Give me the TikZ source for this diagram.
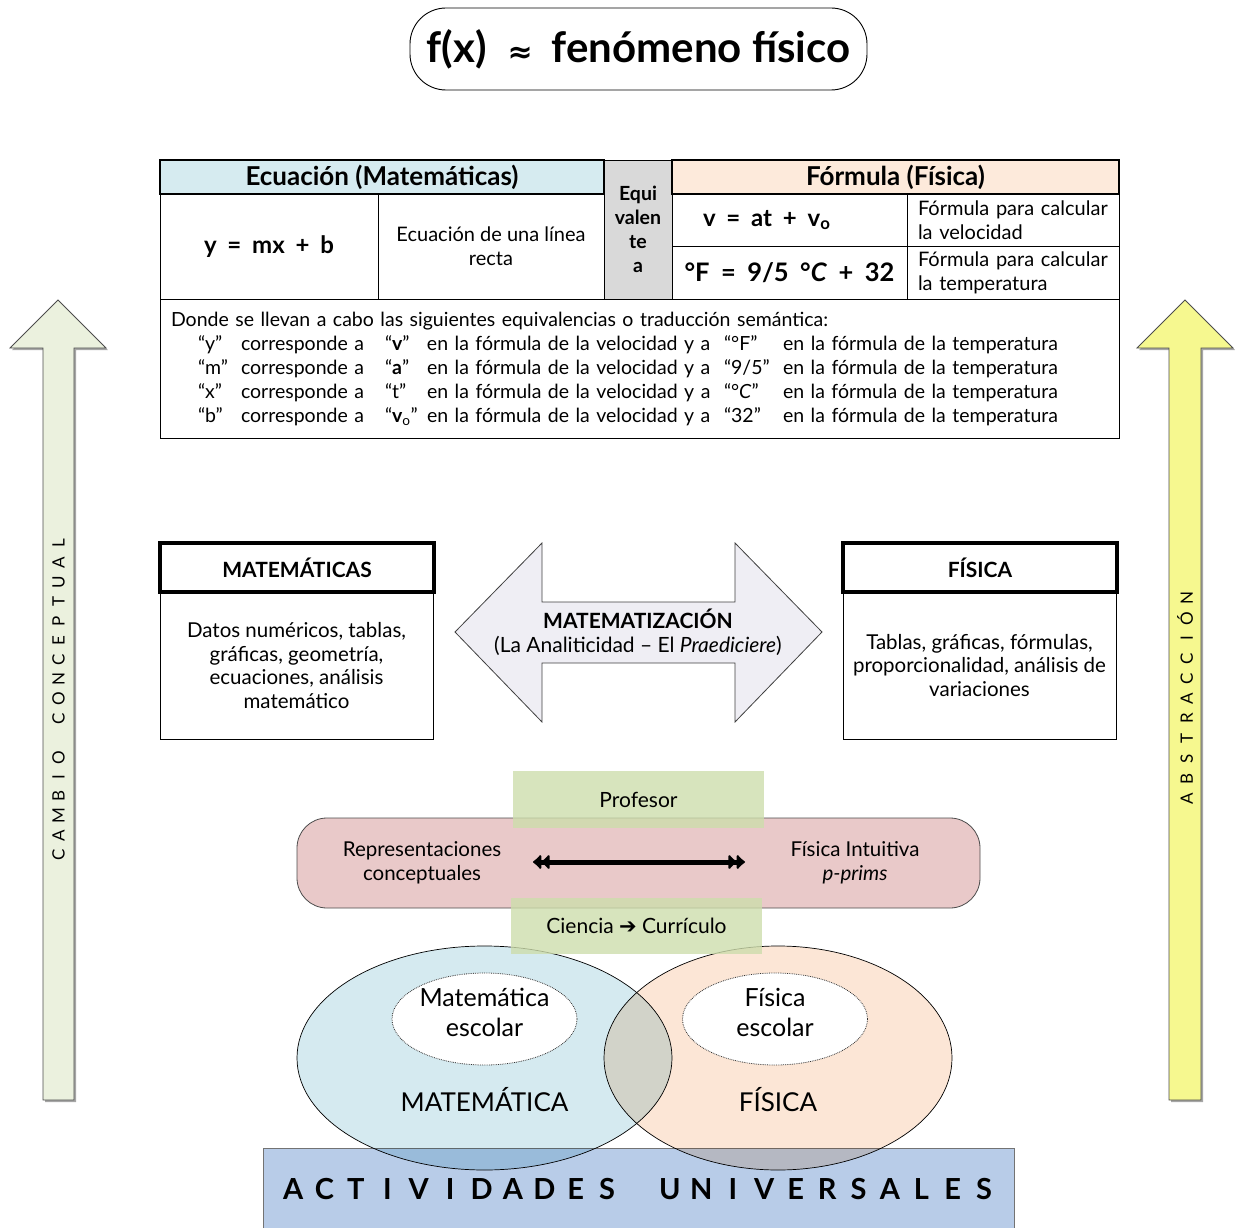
\documentclass[tikz,border=0pt]{standalone}
\usepackage{fontspec}
\setmainfont{Lato}
\newfontfamily\symfont{DejaVu Sans}
\usetikzlibrary{arrows.meta,shapes.geometric}

\definecolor{hdrblue}{RGB}{214,235,240}
\definecolor{hdrpeach}{RGB}{253,234,219}
\definecolor{equigray}{RGB}{217,217,217}
\definecolor{arrowlav}{RGB}{239,238,244}
\definecolor{bandpink}{RGB}{233,201,201}
\definecolor{boxgreen}{RGB}{205,221,172}
\definecolor{venblue}{RGB}{213,234,240}
\definecolor{venpeach}{RGB}{252,230,214}
\definecolor{univblue}{RGB}{184,204,232}
\definecolor{sidegreen}{RGB}{235,241,222}
\definecolor{sideyellow}{RGB}{246,248,143}

% letters set at a fixed pitch: \spreadletters{pitch}{LETTERS~WORD}
\makeatletter
\newcommand\spreadletters[2]{\def\sl@w{#1}\sl@loop#2\relax}
\def\sl@loop#1{\ifx\relax#1\else\makebox[\sl@w]{#1}\expandafter\sl@loop\fi}
\makeatother

% one line of the equivalence list
\newcommand\eqrow[6]{\hspace*{27pt}\makebox[43pt][l]{#1}\makebox[144pt][l]{#2}\makebox[42pt][l]{#3}\makebox[297pt][l]{#4}\makebox[59pt][l]{#5}#6}
% wide gap inside the formulas
\newcommand\fg{\hspace{0.45em}}

\begin{document}
\begin{tikzpicture}[x=1pt,y=-1pt,
  base/.style={inner sep=0pt, outer sep=0pt, align=center},
  cell/.style={base, draw, line width=0.8pt},
  hdr/.style={cell, line width=2pt, minimum height=34pt, font=\bfseries\fontsize{26}{28}\selectfont},
  txt/.style={font=\fontsize{20}{24}\selectfont},
  formula/.style={font=\bfseries\fontsize{24}{26}\selectfont},
  topbox/.style={cell, line width=3.5pt, minimum width=274pt, minimum height=49pt, font=\bfseries\fontsize{21}{24}\selectfont},
  bodybox/.style={cell, minimum width=273pt, minimum height=147pt, font=\fontsize{20.5}{23.5}\selectfont},
  greenbox/.style={base, fill=boxgreen, fill opacity=0.8, text opacity=1, minimum width=251pt, font=\fontsize{21}{24}\selectfont},
  bot/.style={base, font=\fontsize{20.5}{24}\selectfont},
  venn/.style={base, ellipse, draw, line width=0.7pt},
  inner/.style={base, ellipse, fill=white, draw=black!80, densely dotted, line width=0.8pt, minimum width=185pt, minimum height=92pt},
  innertext/.style={base, font=\fontsize{25}{30}\selectfont},
  sidearrow/.style={draw=black!70, line width=0.8pt},
  sidetext/.style={base, rotate=90, font=\fontsize{17}{18}\selectfont}]

\path[use as bounding box] (0,0) rectangle (1235,1228);

% title
\node[base, draw, line width=0.9pt, rounded corners=36pt, minimum width=457pt, minimum height=82pt,
      font=\bfseries\fontsize{42}{46}\selectfont] (title) at (638.5,49)
  {f(x)\hspace{0.5em}{\symfont\bfseries\fontsize{30}{30}\selectfont ≈}\hspace{0.45em}fenómeno físico};

% side arrows
\fill[black!35] (60,302) -- (108,350) -- (76,350) -- (76,1102) -- (45,1102) -- (45,350) -- (12,350) -- cycle;
\draw[sidearrow, fill=sidegreen] (58,300) -- (106,348) -- (74,348) -- (74,1100) -- (43,1100) -- (43,348) -- (10,348) -- cycle;
\node[sidetext] (cambio) at (58.5,699) {\spreadletters{19.5pt}{CAMBIO~CONCEPTUAL}};

\fill[black!35] (1187,302) -- (1235,350) -- (1203,350) -- (1203,1102) -- (1171,1102) -- (1171,350) -- (1139,350) -- cycle;
\draw[sidearrow, fill=sideyellow] (1185,300) -- (1233,348) -- (1201,348) -- (1201,1100) -- (1169,1100) -- (1169,348) -- (1137,348) -- cycle;
\node[sidetext] (abstr) at (1185,698.5) {\spreadletters{20pt}{ABSTRACCIÓN}};

% equation / formula table
\node[cell, fill=equigray, minimum width=68pt, minimum height=139pt, font=\bfseries\fontsize{19.5}{24}\selectfont] (equi) at (638,229.5) {Equi\\valen\\te\\a};
\node[cell, minimum width=218pt, minimum height=105pt, formula] (ymx) at (269,246.5) {y\fg=\fg mx\fg+\fg b};
\node[cell, minimum width=226pt, minimum height=105pt, txt] (eclin) at (491,246.5) {Ecuación de una línea\\recta};
\node[cell, minimum width=235pt, minimum height=52pt, inner xsep=31pt, text width=173pt, align=left, formula] (vat) at (789.5,220) {v\fg=\fg at\fg+\fg v\textsubscript{o}};
\node[cell, minimum width=235pt, minimum height=53pt, font=\bfseries\fontsize{25.5}{28}\selectfont] (fahr) at (789.5,272.5) {°F\fg=\fg9/5\fg°\textit{C}\fg+\fg32};
\node[cell, minimum width=212pt, minimum height=52pt, inner xsep=11pt, text width=190pt, align=left, txt] (dvel) at (1013,220) {Fórmula para calcular\\la velocidad};
\node[cell, minimum width=212pt, minimum height=53pt, inner xsep=11pt, text width=190pt, align=left, txt] (dtemp) at (1013,272.5) {Fórmula para calcular\\la temperatura};
\node[hdr, fill=hdrblue, minimum width=444pt] (ecuH) at (382,177) {Ecuación (Matemáticas)};
\node[hdr, fill=hdrpeach, minimum width=447pt] (forH) at (895.5,177) {Fórmula (Física)};

\node[cell, minimum width=959pt, minimum height=139pt, inner xsep=11pt, text width=937pt, align=left,
      font=\fontsize{19.5}{24}\selectfont] (equiv) at (639.5,368.5)
  {Donde se llevan a cabo las siguientes equivalencias o traducción semántica:\\
   \eqrow{“y”}{corresponde a}{“\textbf{v}”}{en la fórmula de la velocidad y a}{“°F”}{en la fórmula de la temperatura}\\
   \eqrow{“m”}{corresponde a}{“\textbf{a}”}{en la fórmula de la velocidad y a}{“9/5”}{en la fórmula de la temperatura}\\
   \eqrow{“x”}{corresponde a}{“t”}{en la fórmula de la velocidad y a}{“°\textit{C}”}{en la fórmula de la temperatura}\\
   \eqrow{“b”}{corresponde a}{“\textbf{v}\textsubscript{o}”}{en la fórmula de la velocidad y a}{“32”}{en la fórmula de la temperatura}};

% mathematics / physics boxes
\node[bodybox] (matB) at (296.5,665.5) {Datos numéricos, tablas,\\gráficas, geometría,\\ecuaciones, análisis\\matemático};
\node[topbox] (matH) at (297,567.5) {MATEMÁTICAS};
\node[bodybox] (fisB) at (979.5,665.5) {Tablas, gráficas, fórmulas,\\proporcionalidad, análisis de\\variaciones};
\node[topbox] (fisH) at (980,567.5) {FÍSICA};

% mathematisation double arrow
\draw[fill=arrowlav, draw=black!75, line width=0.8pt]
  (455,632) -- (542,543) -- (542,602) -- (735,602) -- (735,543) -- (822,632)
  -- (735,722) -- (735,663) -- (542,663) -- (542,722) -- cycle;
\node[base, font=\fontsize{21}{24}\selectfont] (mtz) at (638,632)
  {\textbf{MATEMATIZACIÓN}\\(La Analiticidad – El \textit{Praediciere})};

% conceptual band
\node[base, draw=black!70, line width=0.8pt, fill=bandpink, rounded corners=30pt, minimum width=683pt, minimum height=90pt] (band) at (638.5,863) {};
\node[bot] (repc) at (422,863) {Representaciones\\conceptuales};
\node[bot] (fint) at (855,863) {Física Intuitiva\\\textit{p-prims}};
\coordinate (aL) at (533,862);
\coordinate (aR) at (745,862);
\draw[line width=5pt, {Latex[length=9pt,width=18pt,round]Latex[length=9pt,width=18pt,round]}-{Latex[length=9pt,width=18pt,round]Latex[length=9pt,width=18pt,round]}] (aL) -- (aR);
\node[greenbox, minimum height=57pt] (prof) at (638.5,799.5) {Profesor};

% universal activities and Venn diagram
\node[base, draw=black!55, line width=0.8pt, fill=univblue, minimum width=751pt, minimum height=82pt,
      font=\bfseries\fontsize{29}{32}\selectfont] (univ) at (638.5,1189)
  {\spreadletters{31.4pt}{ACTIVIDADES~UNIVERSALES}};
\begin{scope}[blend mode=multiply]
  \node[venn, fill=venblue, minimum width=375pt, minimum height=224pt] (venM) at (484.5,1058) {};
  \node[venn, fill=venpeach, minimum width=348pt, minimum height=224pt] (venF) at (778,1058) {};
\end{scope}
\node[inner] (escM) at (484.5,1019) {};
\node[innertext] (escMt) at (484.5,1012) {Matemática\\escolar};
\node[inner] (escF) at (775,1019) {};
\node[innertext] (escFt) at (775,1012) {Física\\escolar};
\node[base, font=\fontsize{26}{28}\selectfont] (labM) at (484.5,1100) {MATEMÁTICA};
\node[base, font=\fontsize{26}{28}\selectfont] (labF) at (778,1100) {FÍSICA};

\node[greenbox, minimum height=56pt] (cienc) at (636.5,926) {Ciencia {\symfont ➔} Currículo};

\end{tikzpicture}
\end{document}
